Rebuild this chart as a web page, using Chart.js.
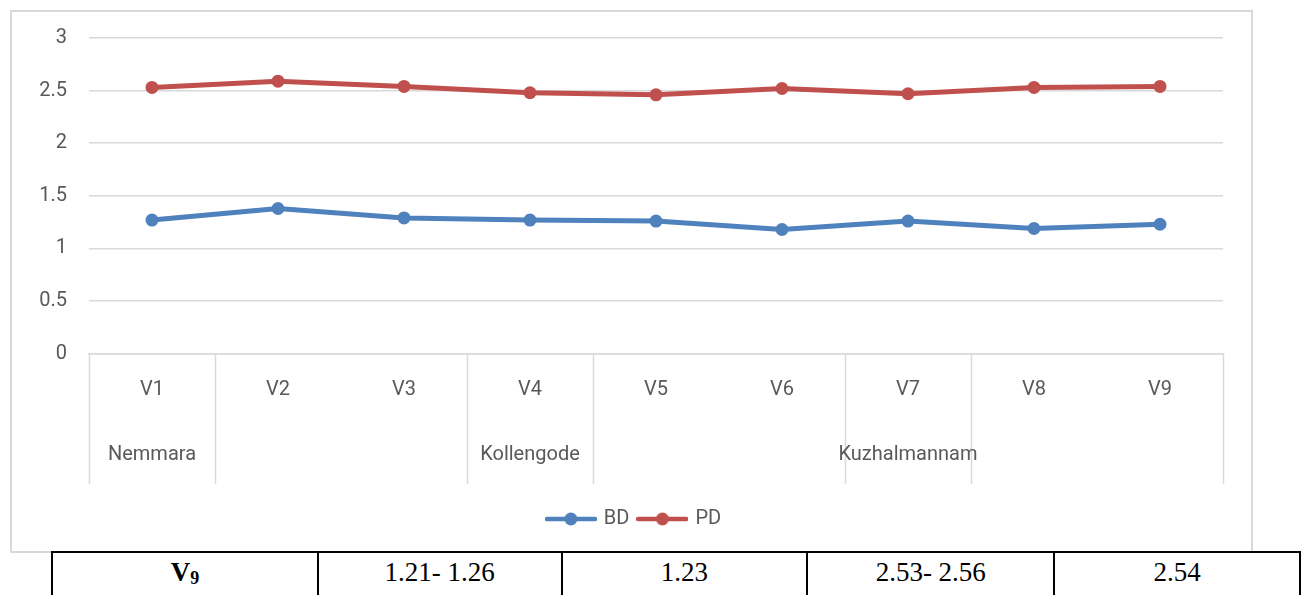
<!DOCTYPE html>
<html>
<head>
<meta charset="utf-8">
<script src="https://cdn.jsdelivr.net/npm/chart.js@4.4.1/dist/chart.umd.min.js"></script>
<style>
  html, body { margin: 0; padding: 0; background: #ffffff; width: 1301px; height: 595px; overflow: hidden; position: relative; }
  #box { position: absolute; left: 10px; top: 10px; width: 1239px; height: 539px; border: 2px solid #d9d9d9; background: #fff; }
  #chartCanvas { display: block; }
  table { position: absolute; left: 51px; top: 551px; border-collapse: collapse; font-family: "Liberation Serif", "Times New Roman", serif; font-size: 27px; color: #000; }
  td { border: 2px solid #000; height: 44px; text-align: center; vertical-align: top; padding: 4px 0 0 0; }
  sub { font-size: 18px; vertical-align: -3px; line-height: 0; }
</style>
</head>
<body>
<div id="box"><canvas id="chartCanvas" width="1239" height="539"></canvas></div>
<table>
  <tr>
    <td style="width:264px;font-weight:bold">V<sub>9</sub></td>
    <td style="width:242px">1.21- 1.26</td>
    <td style="width:244px">1.23</td>
    <td style="width:245px">2.53- 2.56</td>
    <td style="width:244px">2.54</td>
  </tr>
</table>
<script>
// ---- data ----
const categories = ['V1', 'V2', 'V3', 'V4', 'V5', 'V6', 'V7', 'V8', 'V9'];
const groupLabels = ['Nemmara', '', 'Kollengode', '', 'Kuzhalmannam', ''];
const groupSpans = [1, 2, 1, 2, 1, 2];
const bdValues = [1.27, 1.38, 1.29, 1.27, 1.26, 1.18, 1.26, 1.19, 1.23];
const pdValues = [2.53, 2.59, 2.54, 2.48, 2.46, 2.52, 2.47, 2.53, 2.54];
const yTicks = [0, 0.5, 1, 1.5, 2, 2.5, 3];

const textColor = '#595959';
const gridColor = '#d9d9d9';
const FONT = 'Roboto, "Liberation Sans", sans-serif';

function legendIcon(color) {
  const c = document.createElement('canvas');
  c.width = 52; c.height = 16;
  const g = c.getContext('2d');
  g.strokeStyle = color; g.lineWidth = 4.5; g.lineCap = 'round';
  g.beginPath(); g.moveTo(2, 8); g.lineTo(50, 8); g.stroke();
  g.fillStyle = color;
  g.beginPath(); g.arc(26, 8, 6.5, 0, Math.PI * 2); g.fill();
  return c;
}

const groupPlugin = {
  id: 'groupPlugin',
  afterUpdate(chart) {
    // centre the legend on the whole chart box, like the original
    if (chart.legend) { chart.legend.left += 17; chart.legend.right += 17; }
  },
  afterDraw(chart) {
    const xs = chart.scales.x;
    const ctx = chart.ctx;
    const half = (xs.getPixelForValue(1) - xs.getPixelForValue(0)) / 2;
    const top = chart.chartArea.bottom;
    const bottom = top + 130;
    ctx.save();
    ctx.strokeStyle = gridColor;
    ctx.lineWidth = 1.5;
    let idx = 0;
    const bounds = [0];
    groupSpans.forEach(s => { idx += s; bounds.push(idx); });
    bounds.forEach(b => {
      const x = Math.round(xs.getPixelForValue(b) - half) + 0.5;
      ctx.beginPath(); ctx.moveTo(x, top); ctx.lineTo(x, bottom); ctx.stroke();
    });
    ctx.fillStyle = textColor;
    ctx.font = '20px ' + FONT;
    ctx.textAlign = 'center';
    ctx.textBaseline = 'middle';
    let start = 0;
    groupLabels.forEach((lab, i) => {
      const end = start + groupSpans[i];
      const xc = (xs.getPixelForValue(start) + xs.getPixelForValue(end - 1)) / 2;
      if (lab) ctx.fillText(lab, xc, top + 101);
      start = end;
    });
    ctx.restore();
  }
};

new Chart(document.getElementById('chartCanvas'), {
  type: 'line',
  data: {
    labels: categories,
    datasets: [
      { label: 'BD', data: bdValues, borderColor: '#4f81bd', backgroundColor: '#4f81bd',
        borderWidth: 5, pointRadius: 6.5, pointHoverRadius: 6.5, pointBorderWidth: 0,
        pointStyle: 'circle', tension: 0, pointBackgroundColor: '#4f81bd' },
      { label: 'PD', data: pdValues, borderColor: '#c0504d', backgroundColor: '#c0504d',
        borderWidth: 5, pointRadius: 6.5, pointHoverRadius: 6.5, pointBorderWidth: 0,
        pointStyle: 'circle', tension: 0, pointBackgroundColor: '#c0504d' }
    ]
  },
  options: {
    responsive: false,
    animation: false,
    layout: { autoPadding: false, padding: { top: 26, right: 28, bottom: 12, left: 0 } },
    plugins: {
      tooltip: { enabled: false },
      legend: {
        position: 'bottom',
        labels: {
          color: textColor,
          font: { size: 20, family: FONT },
          usePointStyle: true,
          pointStyleWidth: 46,
          boxHeight: 16,
          padding: 10,
          generateLabels(chart) {
            return chart.data.datasets.map((ds, i) => ({
              text: ds.label,
              pointStyle: legendIcon(ds.borderColor),
              fillStyle: ds.borderColor,
              strokeStyle: ds.borderColor,
              lineWidth: 0,
              fontColor: textColor,
              hidden: false,
              datasetIndex: i
            }));
          }
        }
      }
    },
    scales: {
      x: {
        offset: true,
        grid: { display: false, drawTicks: false },
        border: { display: true, color: gridColor, width: 1.5 },
        ticks: { color: textColor, font: { size: 20, family: FONT }, padding: 24, maxRotation: 0, autoSkip: false },
        afterFit(scale) { scale.height = 145.3; scale.paddingLeft = 0; scale.paddingRight = 0; }
      },
      y: {
        min: 0, max: 3,
        afterBuildTicks(scale) { scale.ticks = yTicks.map(v => ({ value: v })); },
        grid: { color: gridColor, lineWidth: 1.5, drawTicks: false },
        border: { display: false },
        ticks: { color: textColor, font: { size: 20, family: FONT }, padding: 22, callback: v => String(v) },
        afterFit(scale) { scale.width = 77; scale.paddingTop = 0; scale.paddingBottom = 0; }
      }
    }
  },
  plugins: [groupPlugin]
});
</script>
</body>
</html>
